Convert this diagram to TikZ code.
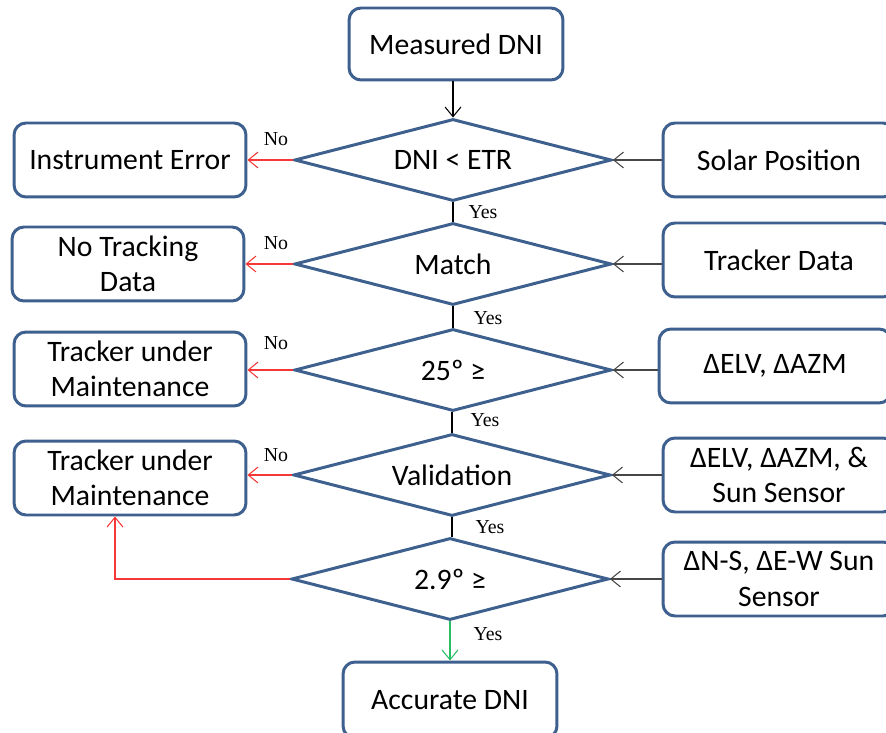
\documentclass[tikz,border=0pt]{standalone}
\usepackage{fontspec}
\setmainfont{Carlito}
\newfontfamily\labelfont{Liberation Serif}
\usetikzlibrary{shapes.geometric,positioning,arrows.meta}

\definecolor{boxblue}{RGB}{62,96,142}
\definecolor{nored}{RGB}{245,55,55}
\definecolor{yesgreen}{RGB}{40,190,100}
\definecolor{feedgray}{RGB}{70,70,70}

\tikzset{
    >={Straight Barb[length=5.5pt,width=9pt]},
    stepbox/.style={draw=boxblue, line width=1.7pt, rounded corners=0.24cm,
        minimum width=4.64cm, minimum height=1.48cm, align=center,
        font=\fontsize{16.9}{20}\selectfont},
    endbox/.style={stepbox, minimum width=4.28cm, minimum height=1.44cm},
    decision/.style={draw=boxblue, line width=1.7pt, shape=diamond, aspect=3.87,
        inner sep=0pt, minimum width=6.34cm, minimum height=1.64cm,
        font=\fontsize{16.9}{20}\selectfont},
    lbl/.style={font=\labelfont\fontsize{11.3}{13}\selectfont},
    flow/.style={->, line width=0.6pt},
}

\begin{document}
\begin{tikzpicture}[x=0.02cm, y=-0.02cm]
        \useasboundingbox (0, 0) rectangle (886, 733);

        % Main column
        \node[endbox] (mdni) at (456, 44) {Measured DNI};
        \node[decision] (d1) at (453, 160) {DNI < ETR};
        \node[decision] (d2) at (453, 264) {Match};
        \node[decision] (d3) at (453, 370) {25º ≥};
        \node[decision] (d4) at (452, 475) {Validation};
        \node[decision] (d5) at (450, 579) {2.9º ≥};
        \node[endbox, minimum height=1.52cm] (adni) at (450, 700) {Accurate DNI};

        % Left boxes
        \node[stepbox] (err) at (130, 160) {Instrument Error};
        \node[stepbox] (notrack) at (128, 264) {No Tracking\\Data};
        \node[stepbox] (tum1) at (130, 369) {Tracker under\\Maintenance};
        \node[stepbox] (tum2) at (130, 478) {Tracker under\\Maintenance};

        % Right boxes
        \node[stepbox] (solar) at (779, 160) {Solar Position};
        \node[stepbox] (tdata) at (779, 260) {Tracker Data};
        \node[stepbox] (dazm) at (775, 366) {ΔELV, ΔAZM};
        \node[stepbox] (sun) at (779, 475) {ΔELV, ΔAZM, \&\\Sun Sensor};
        \node[stepbox] (nsew) at (779, 579) {ΔN-S, ΔE-W Sun\\Sensor};

        % Yes path
        \draw[flow] (d1.north |- mdni.south) -- (d1.north);
        \draw[line width=0.6pt] (d1.south) -- (d2.north);
        \draw[line width=0.6pt] (d2.south) -- (d3.north);
        \draw[line width=0.6pt] (d4.north |- d3.south) -- (d4.north);
        \draw[line width=0.6pt] (d4.south) -- (d4.south |- d5.north);
        \draw[flow, yesgreen] (d5.south) -- (d5.south |- adni.north);
        \node[lbl] at (483, 212) {Yes};
        \node[lbl] at (488, 318) {Yes};
        \node[lbl] at (485, 420) {Yes};
        \node[lbl] at (490, 527) {Yes};
        \node[lbl] at (488, 634) {Yes};

        % No path
        \draw[flow, nored] (d1.west) -- (d1.west -| err.east);
        \draw[flow, nored] (d2.west) -- (d2.west -| notrack.east);
        \draw[flow, nored] (d3.west) -- (d3.west -| tum1.east);
        \draw[flow, nored] (d4.west) -- (d4.west -| tum2.east);
        \draw[flow, nored] (d5.west) -| ([xshift=-0.3cm]tum2.south);
        \node[lbl] at (276, 139) {No};
        \node[lbl] at (276, 243) {No};
        \node[lbl] at (276, 343) {No};
        \node[lbl] at (276, 455) {No};

        % Inputs
        \draw[flow, feedgray] (solar.west |- d1.east) -- (d1.east);
        \draw[flow, feedgray] (tdata.west |- d2.east) -- (d2.east);
        \draw[flow, feedgray] (dazm.west |- d3.east) -- (d3.east);
        \draw[flow, feedgray] (sun.west |- d4.east) -- (d4.east);
        \draw[flow, feedgray] (nsew.west |- d5.east) -- (d5.east);

    \end{tikzpicture}
\end{document}
